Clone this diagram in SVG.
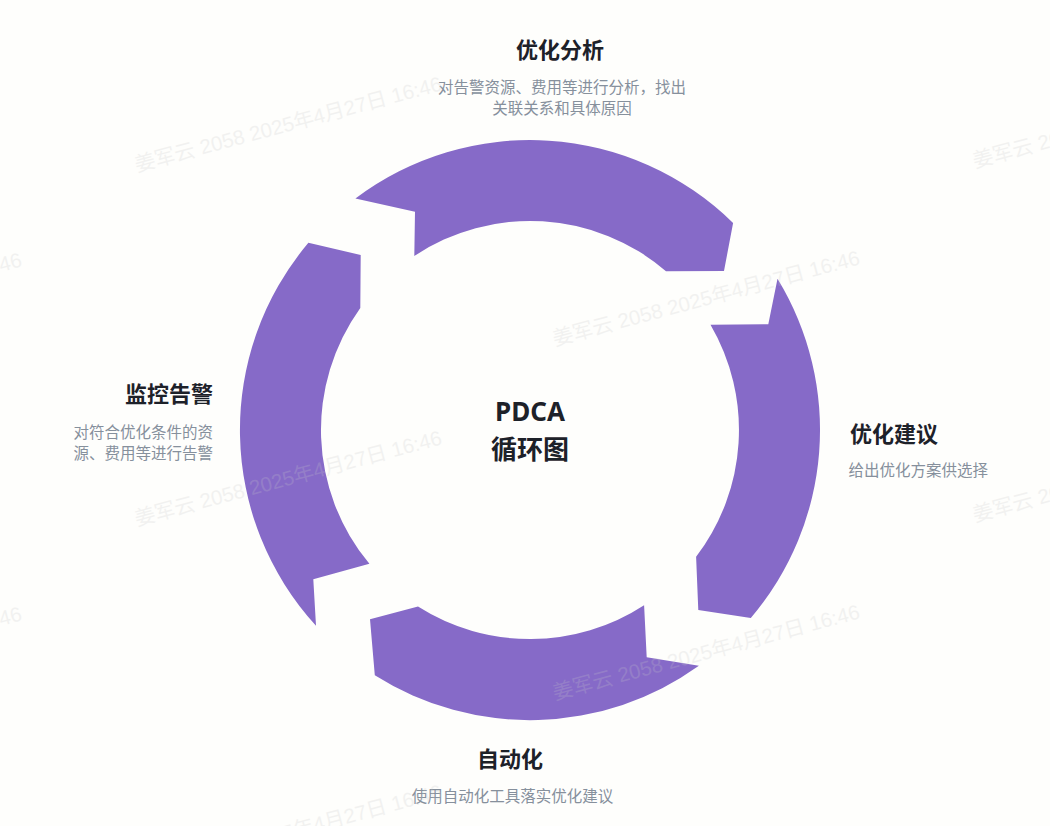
<svg xmlns="http://www.w3.org/2000/svg" width="1050" height="826" viewBox="0 0 1050 826">
<style>
.seg{fill:#866AC8;}
.title{font-family:"Noto Sans CJK SC","Noto Sans",sans-serif;font-weight:700;font-size:22px;fill:#1D2129;}
.desc{font-family:"Noto Sans CJK SC","Noto Sans",sans-serif;font-size:15.5px;fill:#86909C;}
.center{font-family:"Noto Sans","Noto Sans CJK SC",sans-serif;font-weight:700;font-size:26px;fill:#1D2129;}
.wm{font-family:"Liberation Sans","Noto Sans CJK SC",sans-serif;font-size:20.5px;fill:#C8C8C8;opacity:0.22;}
</style>
<rect width="1050" height="826" fill="#FEFEFC"/>
<g id="connectors">
<path id="seg-left" class="seg" d="M 316.0 625.7 A 290 290 0 0 1 308.4 242.8 L 360.7 255 L 360.3 308.0 A 209 209 0 0 0 369.4 563.8 L 313.3 579.3 Z"/>
<path id="seg-top" class="seg" d="M 355.4 198.5 A 290 290 0 0 1 733.1 223.0 L 724 271 L 666 271.2 A 209 209 0 0 0 414.3 256 L 415 211.7 Z"/>
<path id="seg-right" class="seg" d="M 777.5 278.8 A 290 290 0 0 1 750.8 618.0 L 698.3 610 L 696.1 556.8 A 209 209 0 0 0 710.5 324.7 L 768.3 324.3 Z"/>
<path id="seg-bottom" class="seg" d="M 698.9 665.8 A 290 290 0 0 1 374.8 675.2 L 370 619.3 L 418.0 606.5 A 209 209 0 0 0 644.1 605.2 L 646.7 657.3 Z"/>
</g>
<g id="node-center">
<text class="center" x="530" y="421" text-anchor="middle">PDCA</text>
<text class="center" x="530" y="459" text-anchor="middle">循环图</text>
</g>
<g id="node-analyze">
<text class="title" x="560" y="57.5" text-anchor="middle">优化分析</text>
<text class="desc" x="562" y="93" text-anchor="middle">对告警资源、费用等进行分析，找出</text>
<text class="desc" x="562" y="114" text-anchor="middle">关联关系和具体原因</text>
</g>
<g id="node-suggest">
<text class="title" x="850" y="442">优化建议</text>
<text class="desc" x="848.5" y="475.5">给出优化方案供选择</text>
</g>
<g id="node-auto">
<text class="title" x="510" y="767" text-anchor="middle">自动化</text>
<text class="desc" x="512.5" y="801.5" text-anchor="middle">使用自动化工具落实优化建议</text>
</g>
<g id="node-monitor">
<text class="title" x="213" y="401.5" text-anchor="end">监控告警</text>
<text class="desc" x="213" y="437.5" text-anchor="end">对符合优化条件的资</text>
<text class="desc" x="213" y="459" text-anchor="end">源、费用等进行告警</text>
</g>
<g id="watermarks">
<text class="wm" transform="translate(137 172) rotate(-15)">姜军云 2058 2025年4月27日 16:46</text>
<text class="wm" transform="translate(975 168) rotate(-15)">姜军云 2058 2025年4月27日 16:46</text>
<text class="wm" transform="translate(-283 348) rotate(-15)">姜军云 2058 2025年4月27日 16:46</text>
<text class="wm" transform="translate(555 346) rotate(-15)">姜军云 2058 2025年4月27日 16:46</text>
<text class="wm" transform="translate(137 526) rotate(-15)">姜军云 2058 2025年4月27日 16:46</text>
<text class="wm" transform="translate(975 522) rotate(-15)">姜军云 2058 2025年4月27日 16:46</text>
<text class="wm" transform="translate(-283 702) rotate(-15)">姜军云 2058 2025年4月27日 16:46</text>
<text class="wm" transform="translate(555 700) rotate(-15)">姜军云 2058 2025年4月27日 16:46</text>
<text class="wm" transform="translate(137 880) rotate(-15)">姜军云 2058 2025年4月27日 16:46</text>
<text class="wm" transform="translate(975 876) rotate(-15)">姜军云 2058 2025年4月27日 16:46</text>
</g>
</svg>
